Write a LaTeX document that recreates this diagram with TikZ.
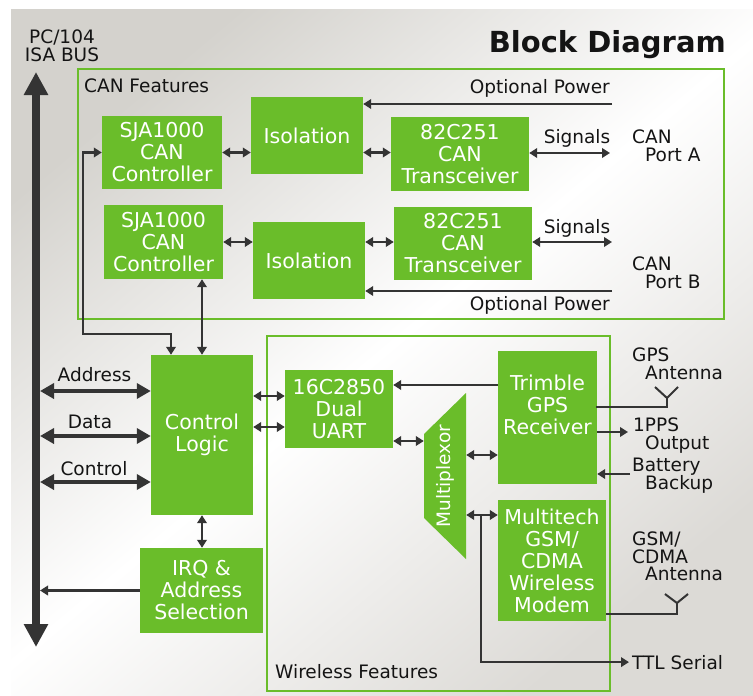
\documentclass[tikz,border=0pt]{standalone}
\usepackage{fontspec}
\setmainfont{DejaVu Sans}
\usetikzlibrary{positioning,arrows.meta,calc}
\definecolor{cangreen}{RGB}{106,189,42}
\definecolor{wire}{RGB}{52,52,52}
\definecolor{bgdark}{RGB}{212,210,205}
\definecolor{bglite}{RGB}{220,218,214}
\setlength{\lineskiplimit}{-8pt}

\begin{document}
\begin{tikzpicture}[x=1pt,y=-1pt]
      \tikzstyle{block}=[rectangle, fill=cangreen, text=white, inner sep=0pt, align=center, font=\fontsize{20.5}{22}\selectfont]
      \tikzstyle{featurebox}=[draw=cangreen, line width=2pt]
      \tikzstyle{lbl}=[inner sep=0pt, text=black!92, font=\fontsize{18.5}{17.5}\selectfont]
      \tikzstyle{side}=[lbl, align=left, anchor=north west]
      \tikzstyle{connect}=[draw=wire, line width=2.5pt, -{Triangle[length=8pt,width=9.5pt]}]
      \tikzstyle{biconnect}=[draw=wire, line width=2.5pt, {Triangle[length=8pt,width=9.5pt]}-{Triangle[length=8pt,width=9.5pt]}]
      \tikzstyle{busline}=[draw=wire, line width=4pt, {Triangle[length=14pt,width=15pt]}-{Triangle[length=14pt,width=15pt]}]
      \tikzstyle{bus}=[draw=wire, line width=7.5pt, {Triangle[length=23pt,width=23pt]}-{Triangle[length=23pt,width=23pt]}]
      \tikzstyle{aerial}=[draw=wire, line width=2pt]

      \useasboundingbox (0,0) rectangle (753,696);
      \shade[top color=bgdark, bottom color=bglite, middle color=white, shading angle=40] (11,9) rectangle (753,696);

      \node[lbl, font=\bfseries\fontsize{29}{30}\selectfont, anchor=base east] (title) at (726,52) {Block Diagram};
      \node[lbl, align=center, anchor=north] (isa) at (62,30) {PC/104\\ISA BUS};

      % CAN part
      \draw[featurebox] (78,69) rectangle (724,319);
      \node[lbl, anchor=base west] (canft) at (84,92) {CAN Features};

      \node[block, minimum width=120pt, minimum height=73pt] (sjaA) at (162,152.5) {SJA1000\\CAN\\Controller};
      \node[block, minimum width=112pt, minimum height=77pt] (isoA) at (307,135.5) {Isolation};
      \node[block, minimum width=138pt, minimum height=74pt] (xcvA) at (460,154) {82C251\\CAN\\Transceiver};
      \node[block, minimum width=119pt, minimum height=74pt] (sjaB) at (163.5,242) {SJA1000\\CAN\\Controller};
      \node[block, minimum width=112pt, minimum height=77pt] (isoB) at (309,260.5) {Isolation};
      \node[block, minimum width=138pt, minimum height=73pt] (xcvB) at (463,243.5) {82C251\\CAN\\Transceiver};

      \node[side] (portA) at (632,130) {CAN\\\hspace*{13pt}Port A};
      \node[side] (portB) at (632,257) {CAN\\\hspace*{13pt}Port B};
      \node[lbl, anchor=base] (sigA) at (577,143) {Signals};
      \node[lbl, anchor=base] (sigB) at (577,233) {Signals};
      \node[lbl, anchor=base east] (pwrA) at (610,93) {Optional Power};
      \node[lbl, anchor=base east] (pwrB) at (610,310) {Optional Power};

      \coordinate (sigendA) at (610,153);
      \coordinate (sigendB) at (612,242);
      \coordinate (pwrinA) at (612,104);
      \coordinate (pwrinB) at (612,291);

      \draw[biconnect] (sjaA.east) -- (sjaA.east -| isoA.west);
      \draw[biconnect] (isoA.east |- sjaA.east) -- (xcvA.west |- sjaA.east);
      \draw[biconnect] (xcvA.east |- sigendA) -- (sigendA);
      \draw[connect] (pwrinA) -- (pwrinA -| isoA.east);
      \draw[biconnect] (sjaB.east) -- (sjaB.east -| isoB.west);
      \draw[biconnect] (isoB.east |- sjaB.east) -- (xcvB.west |- sjaB.east);
      \draw[biconnect] (xcvB.east |- sigendB) -- (sigendB);
      \draw[connect] (pwrinB) -- (pwrinB -| isoB.east);

      % host side
      \coordinate (bustop) at (36,72);
      \coordinate (busbot) at (36,647);
      \coordinate (busedge) at (40,0);
      \coordinate (busjog) at (83,334);
      \draw[bus] (bustop) -- (busbot);

      \node[block, minimum width=102pt, minimum height=160pt] (ctl) at (202,435) {Control\\Logic};
      \node[block, minimum width=123pt, minimum height=85pt] (irq) at (201.5,590.5) {IRQ \&\\Address\\Selection};

      \draw[biconnect] (sjaA.west) -| (busjog) -| ([xshift=-31pt]ctl.north);
      \draw[biconnect] (ctl.north |- sjaB.south) -- (ctl.north);
      \draw[biconnect] (ctl.south) -- (ctl.south |- irq.north);
      \draw[connect] (irq.west) -- (irq.west -| busedge);

      \draw[busline] (busedge |- 0,391) -- (ctl.west |- 0,391);
      \draw[busline] (busedge |- 0,436) -- (ctl.west |- 0,436);
      \draw[busline] (busedge |- 0,482) -- (ctl.west |- 0,482);
      \node[lbl, anchor=base] (addr) at (94.5,381) {Address};
      \node[lbl, anchor=base] (data) at (90,428) {Data};
      \node[lbl, anchor=base] (ctrl) at (94,475) {Control};

      % wireless part
      \draw[featurebox] (267,336) rectangle (610,691);
      \node[lbl, anchor=base west] (wlft) at (275,678) {Wireless Features};

      \node[block, minimum width=108pt, minimum height=78pt] (uart) at (339,409) {16C2850\\Dual\\UART};
      \node[block, minimum width=99pt, minimum height=133pt, text depth=25pt] (gps) at (547.5,417.5) {Trimble\\GPS\\Receiver};
      \node[block, minimum width=108pt, minimum height=121pt] (modem) at (552,560.5) {Multitech\\GSM/\\CDMA\\Wireless\\Modem};
      \fill[cangreen] (424,434) -- (466,393) -- (466,559) -- (424,518) -- cycle;
      \node[lbl, text=white, minimum width=42pt, minimum height=166pt] (mux) at (445,476) {\rotatebox{90}{Multiplexor}};

      \node[side] (gpsant) at (632,348) {GPS\\\hspace*{13pt}Antenna};
      \node[side] (pps) at (633,418) {1PPS\\\hspace*{12pt}Output};
      \node[side] (bat) at (632,458) {Battery\\\hspace*{13pt}Backup};
      \node[side] (gsmant) at (632,532) {GSM/\\CDMA\\\hspace*{13pt}Antenna};
      \node[lbl, anchor=base west] (ttl) at (632,669) {TTL Serial};

      \coordinate (gpsfeed) at (667,398);
      \coordinate (gsmfeed) at (677,603);
      \coordinate (tap) at (481,515);

      \draw[biconnect] (ctl.east |- 0,396) -- (uart.west |- 0,396);
      \draw[biconnect] (ctl.east |- 0,427) -- (uart.west |- 0,427);
      \draw[connect] (gps.west |- 0,385) -- (uart.east |- 0,385);
      \draw[biconnect] (uart.east |- 0,441) -- (mux.west |- 0,441);
      \draw[biconnect] (mux.east |- 0,455) -- (gps.west |- 0,455);
      \draw[biconnect] (mux.east |- 0,515) -- (modem.west |- 0,515);
      \draw[connect] (tap) |- ([xshift=-3pt]ttl.west);
      \draw[connect] (gps.east |- 0,432) -- ([xshift=-5pt]pps.west |- 0,432);
      \draw[connect] ([xshift=-2pt]bat.west |- 0,474) -- (gps.east |- 0,474);

      \draw[aerial] ([xshift=-1pt]gps.east |- 0,407) -| (gpsfeed);
      \draw[aerial] (655,387) -- (gpsfeed) -- (678,387);
      \draw[aerial] (modem.east |- 0,614) -| (gsmfeed);
      \draw[aerial] (665,594) -- (gsmfeed) -- (688,594);
    \end{tikzpicture}
\end{document}
